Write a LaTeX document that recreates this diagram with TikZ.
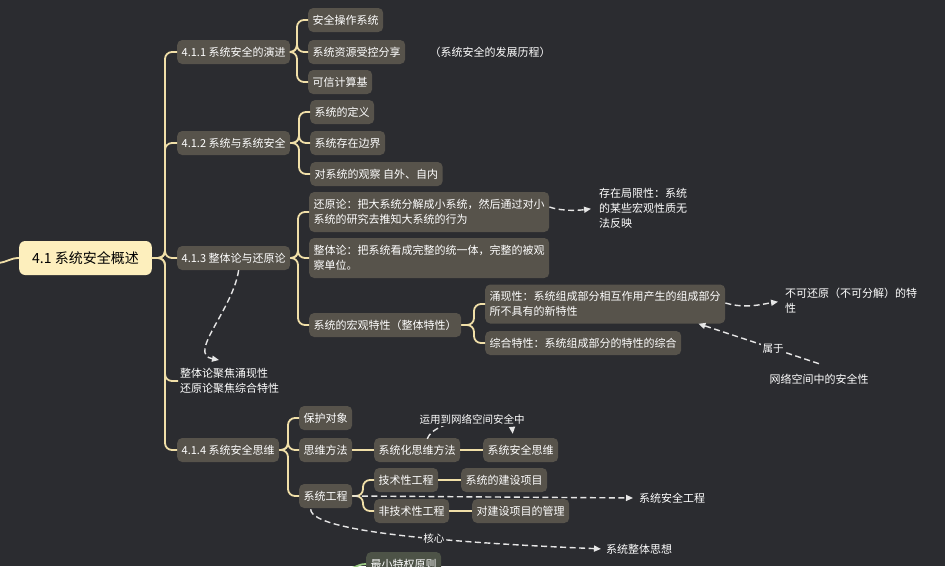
\documentclass[tikz,border=0pt]{standalone}
\usepackage{fontspec}
\setmainfont{Noto Sans CJK SC}
\usetikzlibrary{arrows.meta,calc}
\definecolor{bgc}{HTML}{2B2C30}
\definecolor{boxc}{HTML}{57534B}
\definecolor{linec}{HTML}{F0DFA8}
\definecolor{rootc}{HTML}{FDEFBD}
\definecolor{dashc}{HTML}{E6E6E6}
\definecolor{greenbox}{HTML}{4D5347}
\definecolor{greenline}{HTML}{9CCB86}
\tikzset{
  mybox/.style={fill=boxc, rounded corners=5pt, text=white, inner xsep=4.5pt, inner ysep=0pt,
    minimum height=24pt, anchor=west, font=\fontsize{11}{15.5}\selectfont, align=left},
  rootbox/.style={fill=rootc, rounded corners=6pt, text=black, inner xsep=13pt, inner ysep=0pt,
    minimum height=34pt, anchor=west, font=\fontsize{14}{16}\selectfont},
  plain/.style={text=white, inner sep=2pt, font=\fontsize{11}{15}\selectfont, align=left},
  conn/.style={draw=linec, line width=1.8pt, rounded corners=7pt},
  darr/.style={draw=dashc, line width=1.4pt, dash pattern=on 6pt off 3.5pt,
    -{Triangle[length=7pt,width=6pt]}},
  lbl/.style={fill=bgc, text=white, inner sep=1.5pt, font=\fontsize{10.5}{12}\selectfont},
}
\begin{document}
\begin{tikzpicture}[x=1pt,y=-1pt]
\useasboundingbox (0,0) rectangle (945,566);
\fill[bgc] (0,0) rectangle (945,566);
\clip (0,0) rectangle (945,566);

% root
\node[rootbox] (root) at (19,258) {4.1 系统安全概述};
\coordinate (inL) at (-2,263);
\draw[conn] (inL) .. controls (8,262) and (10,258) .. (root.west);

% level 1
\node[mybox] (n1) at (177,52) {4.1.1 系统安全的演进};
\node[mybox] (n2) at (177,143) {4.1.2 系统与系统安全};
\node[mybox] (n3) at (177,258) {4.1.3 整体论与还原论};
\node[plain, anchor=west] (note) at (178,381) {整体论聚焦涌现性\\还原论聚焦综合特性};
\node[mybox] (n4) at (177,450) {4.1.4 系统安全思维};

\coordinate (t0) at (165,258);
\foreach \c in {n1,n2,n3,note,n4}{
  \draw[conn] (root.east) -- (t0) |- (\c.west);
}

% 4.1.1 children
\node[mybox] (a1) at (308,20) {安全操作系统};
\node[mybox] (a2) at (308,52) {系统资源受控分享};
\node[mybox] (a3) at (308,82) {可信计算基};
\node[plain, anchor=center] (a4) at (490,52) {（系统安全的发展历程）};
\coordinate (j1) at (297,52);
\foreach \c in {a1,a2,a3}{ \draw[conn] (n1.east) -- (j1) |- (\c.west); }

% 4.1.2 children
\node[mybox] (b1) at (310,112) {系统的定义};
\node[mybox] (b2) at (310,143) {系统存在边界};
\node[mybox] (b3) at (310,174) {对系统的观察 自外、自内};
\coordinate (j2) at (299,143);
\foreach \c in {b1,b2,b3}{ \draw[conn] (n2.east) -- (j2) |- (\c.west); }

% 4.1.3 children
\node[mybox, minimum height=40pt] (c1) at (309,212) {还原论：把大系统分解成小系统，然后通过对小\\系统的研究去推知大系统的行为};
\node[mybox, minimum height=40pt] (c2) at (309,258) {整体论：把系统看成完整的统一体，完整的被观\\察单位。};
\node[mybox] (c3) at (309,325) {系统的宏观特性（整体特性）};
\coordinate (j3) at (298,258);
\foreach \c in {c1,c2,c3}{ \draw[conn] (n3.east) -- (j3) |- (\c.west); }

\node[mybox, minimum height=39pt] (d1) at (485,304) {涌现性：系统组成部分相互作用产生的组成部分\\所不具有的新特性};
\node[mybox] (d2) at (485,343) {综合特性：系统组成部分的特性的综合};
\coordinate (j4) at (474,325);
\foreach \c in {d1,d2}{ \draw[conn] (c3.east) -- (j4) |- (\c.west); }

% floating texts 4.1.3
\node[plain, anchor=west] (limit) at (597,208) {存在局限性：系统\\的某些宏观性质无\\法反映};
\node[plain, anchor=west] (irred) at (783,301) {不可还原（不可分解）的特\\性};
\node[plain, anchor=center] (cyber) at (819,379) {网络空间中的安全性};
\coordinate (noteArr) at (219,360);

\draw[darr, shorten >=6pt] ([yshift=5pt]c1.east) .. controls +(15,5) and +(-15,2) .. (limit.west);
\draw[darr, shorten >=5pt] ([yshift=1pt]d1.east) .. controls +(20,6) and +(-20,3) .. (irred.west);
\draw[darr] ([yshift=8pt]cyber.north) -- node[lbl, pos=0.38]{属于} ([xshift=-27pt]d1.south east);
\draw[darr] ([xshift=5pt]n3.south) .. controls +(-6,40) and +(-32,-6) .. (noteArr);

% 4.1.4 children
\node[mybox] (e1) at (299,418) {保护对象};
\node[mybox] (e2) at (299,450) {思维方法};
\node[mybox] (e3) at (299,496) {系统工程};
\coordinate (j5) at (288,450);
\foreach \c in {e1,e2,e3}{ \draw[conn] (n4.east) -- (j5) |- (\c.west); }

\node[mybox] (f1) at (374,450) {系统化思维方法};
\node[mybox] (f2) at (483,450) {系统安全思维};
\draw[conn] (e2.east) -- (f1.west);
\draw[conn] (f1.east) -- (f2.west);

\node[mybox] (g1) at (374,480) {技术性工程};
\node[mybox] (g2) at (374,511) {非技术性工程};
\coordinate (j6) at (363,496);
\foreach \c in {g1,g2}{ \draw[conn] (e3.east) -- (j6) |- (\c.west); }
\node[mybox] (h1) at (461,480) {系统的建设项目};
\node[mybox] (h2) at (472,511) {对建设项目的管理};
\draw[conn] (g1.east) -- (h1.west);
\draw[conn] (g2.east) -- (h2.west);

% floating texts 4.1.4
\node[plain, anchor=west] (sseng) at (637,498) {系统安全工程};
\node[plain, anchor=west] (whole) at (604,549) {系统整体思想};

\draw[darr] ([xshift=10pt,yshift=-1pt]f1.north) .. controls +(8,-22) and +(-2,-22) .. node[lbl, pos=0.5]{运用到网络空间安全中} ([xshift=-8pt,yshift=4pt]f2.north);
\draw[darr, shorten >=4pt] (e3.east) -- (sseng.west);
\draw[darr, shorten >=3pt] ([xshift=-15pt,yshift=-1pt]e3.south) .. controls +(0,25) and +(-120,-5) .. node[lbl, pos=0.56]{核心} (whole.west);

% cut-off bottom node
\node[mybox, fill=greenbox] (m1) at (366,564) {最小特权原则};
\coordinate (mL) at (352,568);
\draw[draw=greenline, line width=1.8pt] (mL) .. controls (358,566) and (360,564) .. (m1.west);
\end{tikzpicture}
\end{document}
